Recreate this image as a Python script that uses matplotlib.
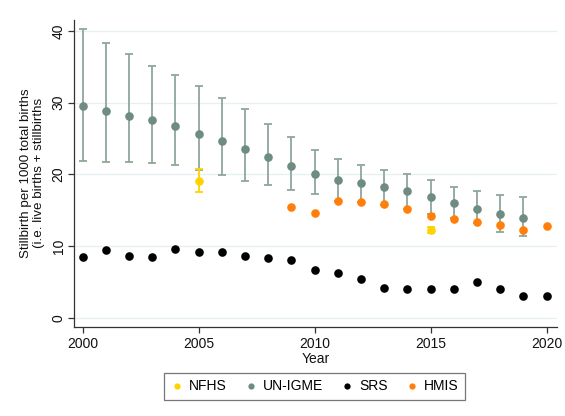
import matplotlib
matplotlib.use("Agg")
import matplotlib.pyplot as plt
from matplotlib.lines import Line2D

plt.rcParams['font.family'] = ['Liberation Sans', 'DejaVu Sans']

years = list(range(2000, 2021))

# UN-IGME estimates with uncertainty bounds (2000-2019)
igme_years = list(range(2000, 2020))
igme = [29.5, 28.85, 28.15, 27.6, 26.8, 25.7, 24.7, 23.6, 22.4, 21.2,
        20.1, 19.2, 18.75, 18.2, 17.7, 16.9, 15.95, 15.1, 14.4, 13.9]
igme_hi = [40.3, 38.3, 36.8, 35.1, 33.8, 32.3, 30.7, 29.1, 27.0, 25.2,
           23.4, 22.1, 21.35, 20.6, 20.05, 19.2, 18.3, 17.7, 17.1, 16.9]
igme_lo = [21.8, 21.7, 21.7, 21.6, 21.3, 20.6, 19.9, 19.1, 18.5, 17.8,
           17.3, 16.3, 16.1, 15.7, 15.2, 14.5, 13.9, 13.2, 12.0, 11.35]

# NFHS
nfhs_years = [2005, 2015]
nfhs = [19.1, 12.2]
nfhs_hi = [20.75, 12.7]
nfhs_lo = [17.5, 11.8]

# SRS
srs_years = years
srs = [8.4, 9.5, 8.6, 8.5, 9.6, 9.1, 9.1, 8.6, 8.3, 8.1, 6.7,
       6.3, 5.4, 4.1, 4.0, 4.0, 4.0, 5.0, 4.0, 3.0, 3.0]

# HMIS
hmis_years = list(range(2009, 2021))
hmis = [15.5, 14.65, 16.3, 16.2, 15.8, 15.2, 14.2, 13.8, 13.3, 12.9, 12.3, 12.75]

c_nfhs = '#FFD200'
c_igme = '#6F8C80'
c_igme_err = '#8FA79D'
c_srs = '#000000'
c_hmis = '#FF7F0A'

fig = plt.figure(figsize=(5.65, 4.16), dpi=100)
ax = fig.add_axes([0.131, 0.2147, 0.855, 0.7373])

ms = 6.2
# UN-IGME
ax.errorbar(igme_years, igme,
            yerr=[[m - l for m, l in zip(igme, igme_lo)],
                  [h - m for m, h in zip(igme, igme_hi)]],
            fmt='none', ecolor=c_igme_err, elinewidth=1.3,
            capsize=2.9, capthick=1.3, zorder=3)
ax.plot(igme_years, igme, 'o', color=c_igme, markersize=ms, markeredgewidth=0, zorder=3.5)
# NFHS
ax.errorbar(nfhs_years, nfhs,
            yerr=[[m - l for m, l in zip(nfhs, nfhs_lo)],
                  [h - m for m, h in zip(nfhs, nfhs_hi)]],
            fmt='none', ecolor=c_nfhs, elinewidth=1.3,
            capsize=2.9, capthick=1.3, zorder=4)
ax.plot(nfhs_years, nfhs, 'o', color=c_nfhs, markersize=ms, markeredgewidth=0, zorder=4.5)
# SRS
ax.plot(srs_years, srs, 'o', color=c_srs, markersize=ms, markeredgewidth=0, zorder=10)
# HMIS
ax.plot(hmis_years, hmis, 'o', color=c_hmis, markersize=ms, markeredgewidth=0, zorder=10)

ax.set_xlim(1999.63, 2020.45)
ax.set_ylim(-1.26, 41.55)
ax.set_xticks([2000, 2005, 2010, 2015, 2020])
ax.set_yticks([0, 10, 20, 30, 40])
ax.grid(axis='y', color='#E6EFF1', linewidth=0.9)
ax.set_axisbelow(True)
for s in ['top', 'right']:
    ax.spines[s].set_visible(False)
for s in ['left', 'bottom']:
    ax.spines[s].set_color('#333333')
    ax.spines[s].set_linewidth(0.9)
ax.tick_params(axis='both', direction='out', length=4, width=0.9, color='#333333',
               labelsize=10, labelcolor='#111111')
ax.tick_params(axis='y', pad=2)
for lab in ax.get_yticklabels():
    lab.set_rotation(90)
    lab.set_va('center')

ax.set_xlabel('Year', fontsize=10, labelpad=1, color='#111111')
ax.set_ylabel('Stillbirth per 1000 total births\n(i.e. live births + stillbirths',
              fontsize=9.6, labelpad=5, color='#111111', linespacing=1.1)

handles = [Line2D([], [], marker='o', linestyle='', color=c, markersize=4.5, markeredgewidth=0)
           for c in [c_nfhs, c_igme, c_srs, c_hmis]]
leg = fig.legend(handles, ['NFHS', 'UN-IGME', 'SRS', 'HMIS'], loc='center',
                 bbox_to_anchor=(314.5 / 565, 1 - 386.5 / 416), ncol=4, fontsize=10,
                 frameon=True, fancybox=False, handletextpad=0.4, columnspacing=1.3,
                 handlelength=0.9, borderpad=0.45, borderaxespad=0)
leg.get_frame().set_edgecolor('#555555')
leg.get_frame().set_linewidth(0.9)

fig.savefig('out.png', dpi=100, facecolor='white')
